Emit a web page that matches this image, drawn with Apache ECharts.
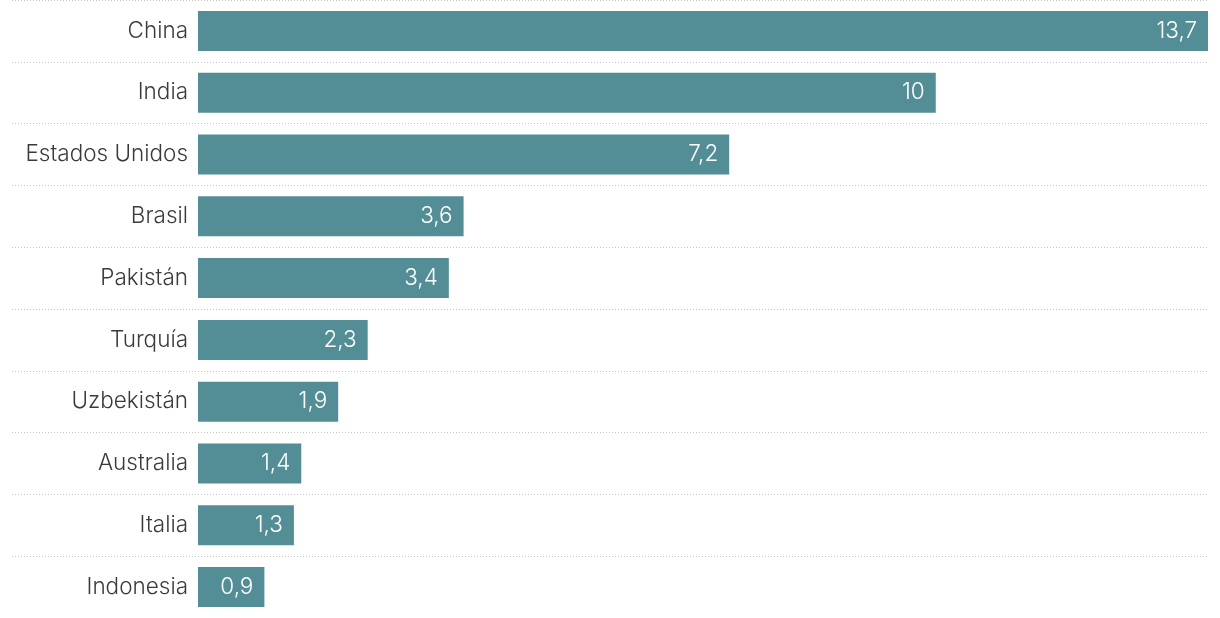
<!DOCTYPE html>
<html>
<head>
<meta charset="utf-8">
<script src="https://cdn.jsdelivr.net/npm/echarts@6/dist/echarts.min.js"></script>
<style>
  html, body { margin: 0; padding: 0; background: #fff; }
  #chart { width: 1220px; height: 618px; }
</style>
</head>
<body>
<div id="chart"></div>
<script>
  // datos (millones)
  var paises = ['China', 'India', 'Estados Unidos', 'Brasil', 'Pakistán', 'Turquía', 'Uzbekistán', 'Australia', 'Italia', 'Indonesia'];
  var valores = [13.7, 10, 7.2, 3.6, 3.4, 2.3, 1.9, 1.4, 1.3, 0.9];

  var chart = echarts.init(document.getElementById('chart'));
  var font = '"Inter"';

  chart.setOption({
    animation: false,
    grid: [
      // grid for dotted separators, wider than bars
      { left: 12, right: 12, top: -2, bottom: 0 },
      { left: 198, right: 12, top: -2, bottom: 0 }
    ],
    xAxis: [
      { gridIndex: 0, type: 'value', show: false },
      { gridIndex: 1, type: 'value', min: 0, max: 13.69, show: false }
    ],
    yAxis: [
      {
        gridIndex: 0, type: 'category', inverse: true, data: paises,
        axisLine: { show: false }, axisTick: { show: false }, axisLabel: { show: false },
        splitLine: { show: true, lineStyle: { color: '#c4c4c4', type: [1, 2], width: 1 } }
      },
      {
        gridIndex: 1, type: 'category', inverse: true, data: paises,
        axisLine: { show: false }, axisTick: { show: false },
        axisLabel: { margin: 10, color: '#3a3a3a', fontSize: 22.5, fontWeight: 300, fontFamily: font }
      }
    ],
    series: [{
      type: 'bar',
      xAxisIndex: 1,
      yAxisIndex: 1,
      data: valores,
      barWidth: 40,
      itemStyle: { color: '#538e96' },
      label: {
        show: true,
        position: 'insideRight',
        distance: 11,
        color: '#fff',
        fontSize: 22.5,
        fontWeight: 300,
        fontFamily: font,
        formatter: function (p) { return String(p.value).replace('.', ','); }
      }
    }]
  });
</script>
</body>
</html>
